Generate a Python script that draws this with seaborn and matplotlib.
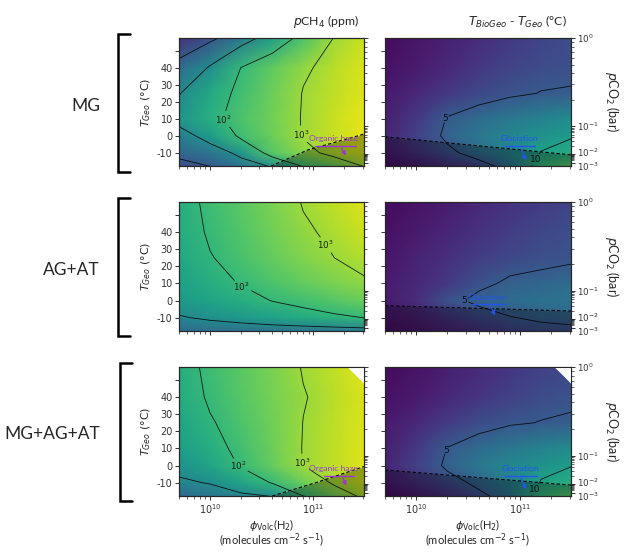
import numpy as np
import matplotlib
matplotlib.use("Agg")
import matplotlib.pyplot as plt
from matplotlib.lines import Line2D
from matplotlib.transforms import ScaledTranslation
import seaborn as sns

# ---------------- data ----------------
PHI = [5e9, 1e10, 2e10, 4e10, 8e10, 1.6e11, 3.2e11]      # phi_Volc(H2) nodes
T_GEO = [-18, -10, 0, 10, 25, 40, 58]                     # T_Geo nodes (deg C)

# log10 pCH4 (ppm); rows follow T_GEO, columns follow PHI
MG_CH4 = [
    [-0.3, 0.0, 0.5, 1.1, 2.05, 2.55, 3.05],
    [0.24, 0.55, 1.3, 2.4, 2.85, 3.2, 3.5],
    [0.7, 1.38, 2.17, 2.61, 3.04, 3.35, 3.6],
    [1.25, 1.85, 2.3, 2.66, 3.05, 3.35, 3.62],
    [0.97, 1.7, 2.2, 2.6, 3.03, 3.3, 3.55],
    [0.35, 1.1, 2.02, 2.5, 2.92, 3.25, 3.5],
    [-0.8, -0.2, 0.6, 1.45, 2.3, 3.02, 3.4],
]
AGAT_CH4 = [
    [0.3, 0.38, 0.44, 0.5, 0.55, 0.6, 0.66],
    [0.94, 1.15, 1.35, 1.55, 1.72, 1.88, 2.02],
    [1.35, 1.6, 1.8, 2.02, 2.2, 2.4, 2.6],
    [1.5, 1.8, 2.05, 2.3, 2.52, 2.73, 2.92],
    [1.65, 1.97, 2.28, 2.55, 2.8, 3.0, 3.22],
    [1.75, 2.08, 2.37, 2.65, 2.92, 3.15, 3.4],
    [1.8, 2.15, 2.45, 2.74, 3.04, 3.3, 3.55],
]
ALL_CH4 = [
    [0.3, 0.55, 0.8, 1.02, 1.98, 2.6, 3.2],
    [0.9, 1.05, 1.6, 2.05, 2.6, 3.1, 3.45],
    [1.2, 1.6, 2.08, 2.55, 3.02, 3.3, 3.55],
    [1.45, 1.8, 2.2, 2.6, 3.03, 3.3, 3.55],
    [1.6, 1.95, 2.32, 2.65, 3.01, 3.28, 3.52],
    [1.75, 2.08, 2.4, 2.7, 2.97, 3.25, 3.5],
    [1.8, 2.15, 2.45, 2.74, 3.04, 3.3, 3.6],
]
# T_BioGeo - T_Geo (deg C)
MG_DT = [
    [0.5, 1.2, 2.2, 3.6, 6.7, 12.0, 13.5],
    [1.2, 2.5, 4.4, 6.5, 8.2, 10.1, 11.2],
    [1.8, 3.5, 5.6, 7.2, 8.2, 9.1, 9.8],
    [1.5, 3.0, 5.2, 6.3, 7.2, 8.0, 8.8],
    [1.2, 2.0, 3.0, 3.9, 4.6, 5.1, 5.25],
    [0.8, 1.4, 2.1, 2.9, 3.6, 4.1, 4.4],
    [0.5, 1.0, 1.6, 2.3, 3.0, 3.7, 4.3],
]
AGAT_DT = [
    [0.6, 1.0, 1.7, 2.5, 3.3, 4.0, 4.3],
    [1.0, 1.6, 2.6, 3.8, 4.9, 5.5, 5.8],
    [1.4, 2.2, 4.5, 5.6, 6.2, 6.7, 7.0],
    [1.3, 2.0, 3.0, 4.5, 5.5, 5.8, 6.3],
    [1.0, 1.7, 2.4, 3.2, 3.8, 4.3, 4.6],
    [0.8, 1.3, 1.9, 2.6, 3.2, 3.8, 4.3],
    [0.5, 0.9, 1.4, 2.0, 2.6, 3.1, 3.6],
]
ALL_DT = [
    [0.5, 1.2, 2.4, 4.2, 7.0, 12.0, 13.5],
    [1.2, 2.4, 4.0, 5.8, 7.8, 10.2, 11.3],
    [1.8, 3.5, 5.5, 7.2, 8.3, 9.2, 9.95],
    [1.5, 3.0, 5.1, 6.2, 7.2, 8.0, 8.7],
    [1.2, 2.0, 3.1, 4.1, 4.75, 5.1, 5.3],
    [0.8, 1.3, 2.0, 2.8, 3.5, 4.1, 4.6],
    [0.5, 0.9, 1.5, 2.1, 2.8, 3.4, 4.0],
]

SCENARIOS = ["MG", "AG+AT", "MG+AG+AT"]
CH4_PLAIN_LEVELS = [0, 1]          # drawn, not labelled
CH4_LABEL_LEVELS = [2, 3]          # drawn and labelled
DT_LEVELS = {0: [5, 10], 1: [5], 2: [5, 10]}

# organic haze limit (left column) and glaciation limit (right column)
HAZE_PHI = {0: [3.9e10, 8.9e10, 3.1e11], 2: [4.0e10, 1.1e11, 3.1e11]}
HAZE_T = {0: [-17.8, -8.3, 1.0], 2: [-17.8, -9.7, -0.6]}
GLAC_PHI = [5e9, 3.1e11]
GLAC_T = {0: [-0.6, -11.2], 1: [-3.0, -6.1], 2: [-2.6, -11.4]}

# annotation anchors: text (x, y), bar (x0, x1, y), arrow (x_start, x_end, y_end)
HAZE_NOTE = {0: ((1.58e11, -1.8), (1.05e11, 2.57e11, -5.9), (1.82e11, 2.14e11, -13.0)),
             2: ((1.58e11, -1.5), (1.26e11, 2.5e11, -6.1), (1.9e11, 2.14e11, -13.2))}
GLAC_NOTE = {0: ((9.8e10, -1.8), (7.1e10, 1.41e11, -6.3), (1.0e11, 1.17e11, -16.0)),
             1: ((4.9e10, 2.0), (3.55e10, 7.2e10, -2.1), (5.1e10, 5.9e10, -10.2)),
             2: ((1.0e11, -2.0), (7.1e10, 1.45e11, -6.1), (1.0e11, 1.17e11, -15.5))}

# contour label spots
CH4_LABEL_AT = {0: [(1.26e10, 8.2), (7.4e10, 0.5)],
                1: [(1.95e10, 7.3), (1.23e11, 31.3)],
                2: [(1.82e10, -1.5), (7.8e10, 1.5)]}
DT_LABEL_AT = {0: [(1.82e10, 10.5), (1.32e11, -12.9)],
               1: [(2.4e10, -0.1)],
               2: [(1.95e10, 8.9), (1.26e11, -12.6)]}

# unavailable model region (MG+AG+AT, top right)
CUT_PHI = [2.14e11, 2.63e11, 3.16e11]
CUT_T = [57.6, 52.3, 47.4]

# pCO2 axis: decade exponent vs T_Geo position
PCO2_EXP = [-3, -2, -1, 0]
PCO2_T = [-16.1, -10.8, 5.6, 57.6]
PCO2_LABELS = [r"$10^{0}$", r"$10^{-1}$", r"$10^{-2}$", r"$10^{-3}$"]

T_TICKS = [-10, 0, 10, 20, 30, 40, 50]
XLIM = (5e9, 3.1e11)
YLIM = (-17.8, 57.6)

# ---------------- figure ----------------
sns.set_style("ticks")
plt.rcParams["font.family"] = ["DejaVu Sans"]
plt.rcParams["axes.linewidth"] = 0.8
cmap = sns.color_palette("viridis", as_cmap=True)

W, H = 625, 556
fig = plt.figure(figsize=(W / 100, H / 100), dpi=100)
fig.patch.set_facecolor("white")

rows_px = [(38, 166), (202, 331), (367, 496)]
cols_px = [(179, 364), (385, 571)]

CH4 = [MG_CH4, AGAT_CH4, ALL_CH4]
DT = [MG_DT, AGAT_DT, ALL_DT]

X, Y = np.meshgrid(PHI, T_GEO)

minor_T = []
for k in [-3, -2, -1]:
    for m in range(2, 10):
        minor_T.append(np.interp(k + np.log10(m), PCO2_EXP, PCO2_T))

haze_col = "#9b35d6"
glac_col = "#2255f0"
LBL_FAM = ["Lato", "DejaVu Sans"]
LINE_KW = dict(colors="k", linewidths=0.6, alpha=0.85)


def note(ax, spec, text, col):
    (tx, ty), (bx0, bx1, by), (sx, ex, ey) = spec
    ax.text(tx, ty, text, color=col, fontsize=6.1, ha="center", va="center",
            family="Lato", zorder=6)
    ax.plot([bx0, bx1], [by, by], color=col, lw=1.0, zorder=6)
    ax.annotate("", xy=(ex, ey), xytext=(sx, by),
                arrowprops=dict(arrowstyle="-|>", color=col, lw=0.9, mutation_scale=6),
                zorder=6)


def flat_labels(texts):
    for t in texts:
        t.set_rotation(0)


for r, (top, bot) in enumerate(rows_px):
    for c, (x0, x1) in enumerate(cols_px):
        ax = fig.add_axes([x0 / W, 1 - bot / H, (x1 - x0) / W, (bot - top) / H])
        ax.set_xscale("log")
        if c == 0:
            Z = np.array(CH4[r])
            ax.pcolormesh(X, Y, Z, shading="gouraud", cmap=cmap, vmin=-1.5, vmax=3.8)
            ax.contour(X, Y, Z, levels=CH4_PLAIN_LEVELS, **LINE_KW)
            cs = ax.contour(X, Y, Z, levels=CH4_LABEL_LEVELS, **LINE_KW)
            flat_labels(ax.clabel(cs, fmt={2: r"$10^2$", 3: r"$10^3$"}, manual=CH4_LABEL_AT[r],
                                  fontsize=6.3, inline=True, inline_spacing=1))
            if r in HAZE_PHI:
                ax.fill_between(HAZE_PHI[r], HAZE_T[r], YLIM[0], color="k", alpha=0.3, lw=0, zorder=3)
                ax.plot(HAZE_PHI[r], HAZE_T[r], color="k", ls=(0, (3, 2)), lw=0.8, zorder=4)
                note(ax, HAZE_NOTE[r], "Organic haze", haze_col)
        else:
            Z = np.array(DT[r])
            ax.pcolormesh(X, Y, Z, shading="gouraud", cmap=cmap, vmin=0.0, vmax=18.0)
            cs = ax.contour(X, Y, Z, levels=DT_LEVELS[r], **LINE_KW)
            flat_labels(ax.clabel(cs, fmt={5: "5", 10: "10"}, manual=DT_LABEL_AT[r],
                                  fontsize=6.5, inline=True, inline_spacing=1))
            ax.fill_between(GLAC_PHI, GLAC_T[r], YLIM[0], color="k", alpha=0.3, lw=0, zorder=3)
            ax.plot(GLAC_PHI, GLAC_T[r], color="k", ls=(0, (3, 2)), lw=0.8, zorder=4)
            note(ax, GLAC_NOTE[r], "Glaciation", glac_col)
        if r == 2:
            ax.fill_between(CUT_PHI, CUT_T, YLIM[1], color="white", lw=0, zorder=5)

        ax.set_xlim(*XLIM)
        ax.set_ylim(*YLIM)
        ax.set_yticks(T_TICKS)
        ax.tick_params(labelsize=7, length=3, width=0.7, pad=1.5, colors="#333333")
        ax.tick_params(which="minor", length=1.8, width=0.5)
        if c == 0:
            ax.set_yticklabels([str(t) if t != 50 else "" for t in T_TICKS])
            ax.set_ylabel(r"$T_{Geo}$ (°C)", fontsize=8)
            ax.yaxis.set_label_coords((153 - x0) / (x1 - x0), 0.5)
        else:
            ax.set_yticklabels([])
        if r < 2:
            ax.xaxis.set_major_formatter(plt.NullFormatter())
            ax.xaxis.set_minor_formatter(plt.NullFormatter())
        else:
            ax.set_xlabel(r"$\phi_{\mathrm{Volc}}$(H$_2$)" + "\n" + r"(molecules cm$^{-2}$ s$^{-1}$)",
                          fontsize=8, family=LBL_FAM, linespacing=0.8)
            ax.xaxis.set_label_coords(0.5, -0.165)

        tw = ax.twinx()
        tw.set_ylim(*YLIM)
        tw.set_yticks(PCO2_T[::-1])
        tw.set_yticks(minor_T, minor=True)
        tw.tick_params(labelsize=6.3, length=3, width=0.7, pad=1.5, colors="#333333")
        tw.tick_params(which="minor", length=1.8, width=0.5)
        if c == 1:
            labs = tw.set_yticklabels(PCO2_LABELS)
            # nudge the two crowded lowest labels apart slightly
            labs[2].set_transform(labs[2].get_transform()
                                  + ScaledTranslation(0, 1.6 / 72, fig.dpi_scale_trans))
            labs[3].set_transform(labs[3].get_transform()
                                  + ScaledTranslation(0, -1.6 / 72, fig.dpi_scale_trans))
            tw.set_ylabel(r"$p$CO$_2$ (bar)", fontsize=9, rotation=270, family=LBL_FAM)
            tw.yaxis.set_label_coords((621 - x0) / (x1 - x0), 0.5)
        else:
            tw.set_yticklabels([])
        for s in list(ax.spines.values()) + list(tw.spines.values()):
            s.set_linewidth(0.8)

        if r == 0:
            if c == 0:
                ax.text(0.973, 1.06, r"$p$CH$_4$ (ppm)", transform=ax.transAxes, ha="right",
                        va="bottom", fontsize=8.8, family=LBL_FAM)
            else:
                ax.text(0.978, 1.06, r"$T_{BioGeo}$ - $T_{Geo}$ (°C)", transform=ax.transAxes,
                        ha="right", va="bottom", fontsize=8.8, family=LBL_FAM)

# scenario labels and brackets
label_y = [106, 270, 434]
brackets = [(118, 130, 34, 172), (118, 130, 198, 336), (120, 132, 363, 501)]
for name, ly, (bx, bx2, bt, bb) in zip(SCENARIOS, label_y, brackets):
    fig.text(100 / W, 1 - ly / H, name, ha="right", va="center", fontsize=12.5, family=LBL_FAM)
    fig.add_artist(Line2D([bx2 / W, bx / W, bx / W, bx2 / W],
                          [1 - bt / H, 1 - bt / H, 1 - bb / H, 1 - bb / H],
                          color="k", lw=1.8, solid_joinstyle="miter"))

fig.savefig("out.png", dpi=100, facecolor="white")
